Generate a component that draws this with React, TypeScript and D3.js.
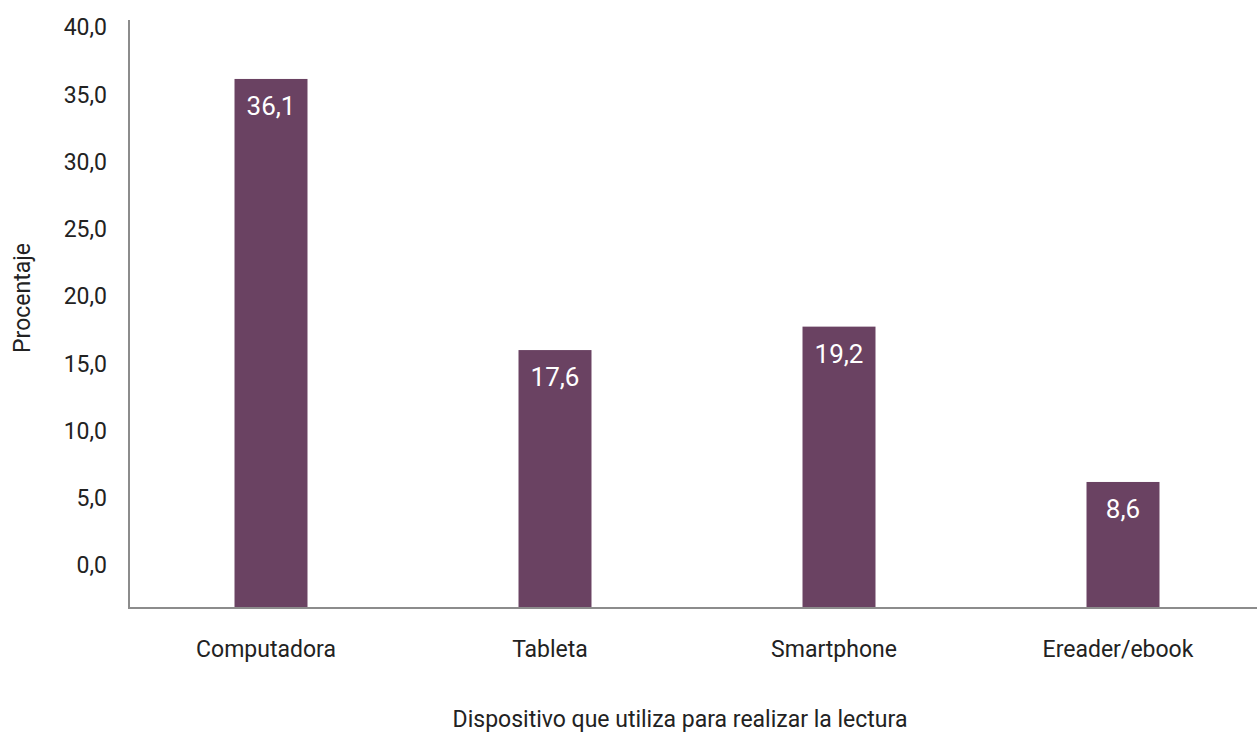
import React from "react";
import * as d3 from "d3";

const categories = ["Computadora", "Tableta", "Smartphone", "Ereader/ebook"];
const values = [36.1, 17.6, 19.2, 8.6];
const valueLabels = ["36,1", "17,6", "19,2", "8,6"];
const tickValues = [0, 5, 10, 15, 20, 25, 30, 35, 40];
const tickLabels = ["0,0", "5,0", "10,0", "15,0", "20,0", "25,0", "30,0", "35,0", "40,0"];

const W = 1257;
const H = 733;
const FONT = "Roboto, 'Open Sans', sans-serif";

export default function App() {
  const x = d3.scaleBand<string>().domain(categories).range([129, 1265]).paddingInner(0.743).paddingOuter(0.3715);
  const y = d3.scaleLinear().domain([0, 40]).range([608, 21.8]);
  const yTick = d3.scaleLinear().domain([0, 40]).range([565, 27]);
  const color = "#6a4262";
  return (
    <svg width={W} height={H} style={{ position: "absolute", left: 0, top: 0, background: "#fff" }}>
      {categories.map((c, i) => (
        <g key={c}>
          <rect x={x(c)} y={y(values[i])} width={x.bandwidth()} height={y(0) - y(values[i])} fill={color} />
          <text x={(x(c) as number) + x.bandwidth() / 2} y={y(values[i]) + 36} fill="#fff" fontSize={26} fontFamily={FONT} textAnchor="middle">
            {valueLabels[i]}
          </text>
          <text x={(x(c) as number) + x.bandwidth() / 2 - 5} y={657} fill="#222" fontSize={23} fontFamily={FONT} textAnchor="middle">
            {c}
          </text>
        </g>
      ))}
      {tickValues.map((t, i) => (
        <text key={t} x={107} y={yTick(t)} dy="0.36em" fill="#222" fontSize={23} fontFamily={FONT} textAnchor="end">
          {tickLabels[i]}
        </text>
      ))}
      <line x1={129} x2={129} y1={20} y2={609} stroke="#8c8c8c" strokeWidth={2} />
      <line x1={128} x2={1257} y1={608} y2={608} stroke="#8c8c8c" strokeWidth={2} />
      <text transform={`translate(30,${298}) rotate(-90)`} fill="#222" fontSize={23} fontFamily={FONT} textAnchor="middle">
        Procentaje
      </text>
      <text x={680} y={727} fill="#222" fontSize={23} fontFamily={FONT} textAnchor="middle">
        Dispositivo que utiliza para realizar la lectura
      </text>
    </svg>
  );
}
